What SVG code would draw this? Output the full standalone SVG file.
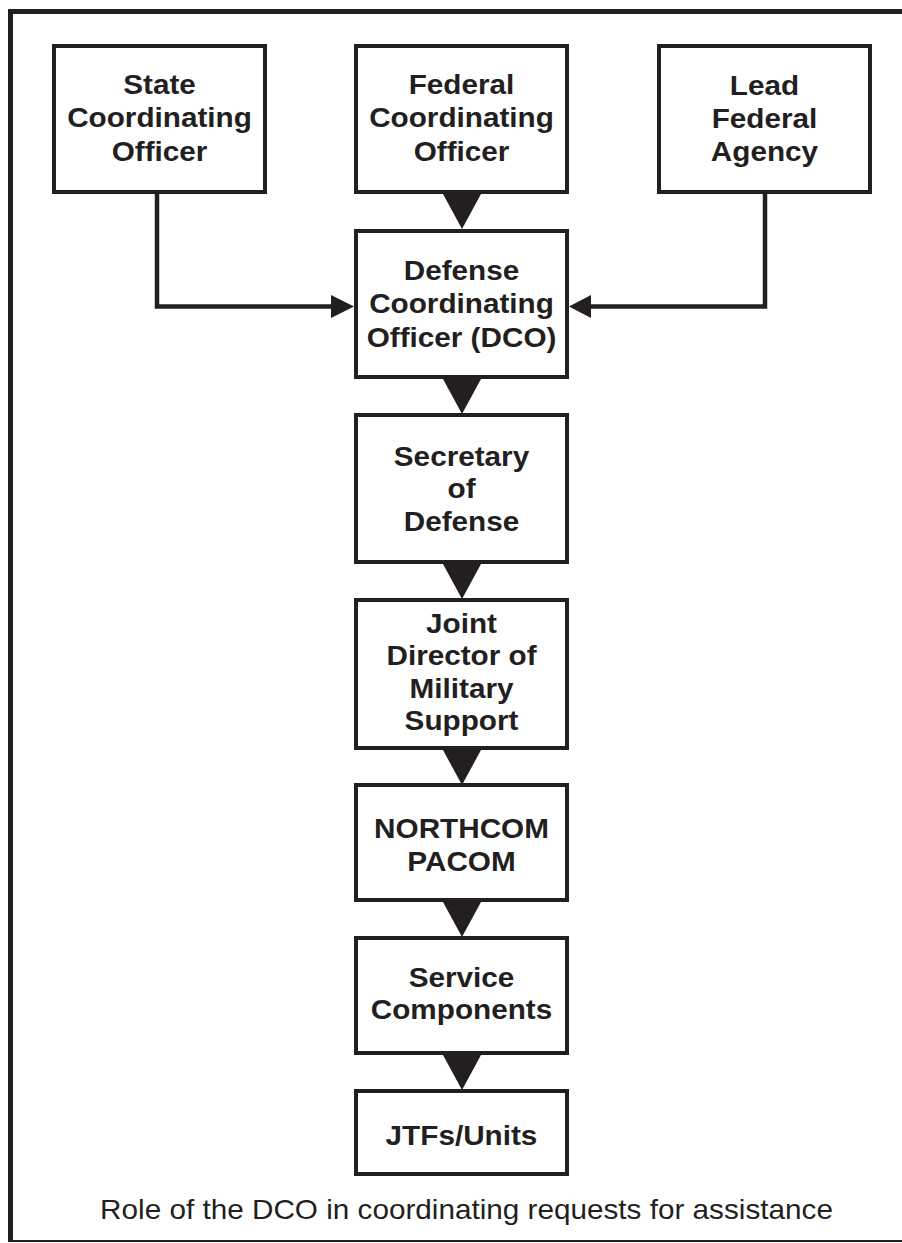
<svg xmlns="http://www.w3.org/2000/svg" xmlns:xlink="http://www.w3.org/1999/xlink" width="902" height="1243" viewBox="0 0 902 1243">
<style>
.box{fill:#fff;stroke:#231f20;stroke-width:4}
.lbl{font-family:"Liberation Sans",Arial,sans-serif;font-weight:bold;font-size:27px;fill:#231f20;text-anchor:middle}
.cap{font-family:"Liberation Sans",Arial,sans-serif;font-size:27px;fill:#231f20;text-anchor:middle}
.ln{fill:none;stroke:#231f20;stroke-width:4.5}
.head{fill:#231f20}
</style>
<defs>
<polygon id="down" points="-19,0 19,0 0,35"/>
</defs>
<rect x="0" y="0" width="902" height="1243" fill="#fff"/>
<g id="frame">
<line x1="10.5" y1="9" x2="10.5" y2="1242" stroke="#231f20" stroke-width="5"/>
<line x1="8" y1="11.5" x2="902" y2="11.5" stroke="#231f20" stroke-width="5"/>
<line x1="8" y1="1241" x2="902" y2="1241" stroke="#231f20" stroke-width="2"/>
</g>
<g id="connectors">
<polyline class="ln" points="157,194 157,306.5 334,306.5"/>
<polygon class="head" points="331,295 331,318 354,306.5"/>
<polyline class="ln" points="765,194 765,306.5 588,306.5"/>
<polygon class="head" points="591,295 591,318 569,306.5"/>
<use xlink:href="#down" class="head" transform="translate(462,194)"/>
<use xlink:href="#down" class="head" transform="translate(462,379)"/>
<use xlink:href="#down" class="head" transform="translate(462,564)"/>
<use xlink:href="#down" class="head" transform="translate(462,750)"/>
<use xlink:href="#down" class="head" transform="translate(462,902)"/>
<use xlink:href="#down" class="head" transform="translate(462,1055)"/>
</g>
<g id="state">
<rect class="box" x="54" y="46" width="211" height="146"/>
<g transform="translate(159.5,0) scale(1.1,1)"><text class="lbl" x="0" y="94">State</text><text class="lbl" x="0" y="127.5">Coordinating</text><text class="lbl" x="0" y="161">Officer</text></g>
</g>
<g id="federal">
<rect class="box" x="356" y="46" width="211" height="146"/>
<g transform="translate(461.5,0) scale(1.1,1)"><text class="lbl" x="0" y="94">Federal</text><text class="lbl" x="0" y="127.5">Coordinating</text><text class="lbl" x="0" y="161">Officer</text></g>
</g>
<g id="lead">
<rect class="box" x="659" y="46" width="211" height="146"/>
<g transform="translate(764.5,0) scale(1.1,1)"><text class="lbl" x="0" y="95">Lead</text><text class="lbl" x="0" y="128">Federal</text><text class="lbl" x="0" y="161">Agency</text></g>
</g>
<g id="dco">
<rect class="box" x="356" y="231" width="211" height="146"/>
<g transform="translate(461.5,0) scale(1.1,1)"><text class="lbl" x="0" y="280">Defense</text><text class="lbl" x="0" y="313.5">Coordinating</text><text class="lbl" x="0" y="347">Officer (DCO)</text></g>
</g>
<g id="secdef">
<rect class="box" x="356" y="415" width="211" height="147"/>
<g transform="translate(461.5,0) scale(1.1,1)"><text class="lbl" x="0" y="466">Secretary</text><text class="lbl" x="0" y="498.5">of</text><text class="lbl" x="0" y="531">Defense</text></g>
</g>
<g id="jdoms">
<rect class="box" x="356" y="600" width="211" height="148"/>
<g transform="translate(461.5,0) scale(1.1,1)"><text class="lbl" x="0" y="633">Joint</text><text class="lbl" x="0" y="665.5">Director of</text><text class="lbl" x="0" y="698">Military</text><text class="lbl" x="0" y="730.5">Support</text></g>
</g>
<g id="northcom">
<rect class="box" x="356" y="785" width="211" height="115"/>
<g transform="translate(461.5,0) scale(1.1,1)"><text class="lbl" x="0" y="838">NORTHCOM</text><text class="lbl" x="0" y="871">PACOM</text></g>
</g>
<g id="service">
<rect class="box" x="356" y="938" width="211" height="115"/>
<g transform="translate(461.5,0) scale(1.1,1)"><text class="lbl" x="0" y="987">Service</text><text class="lbl" x="0" y="1019">Components</text></g>
</g>
<g id="jtfs">
<rect class="box" x="356" y="1091" width="211" height="83"/>
<g transform="translate(461.5,0) scale(1.1,1)"><text class="lbl" x="0" y="1145">JTFs/Units</text></g>
</g>
<g id="caption" transform="translate(466.5,0) scale(1.1,1)">
<text class="cap" x="0" y="1219">Role of the DCO in coordinating requests for assistance</text>
</g>
</svg>
